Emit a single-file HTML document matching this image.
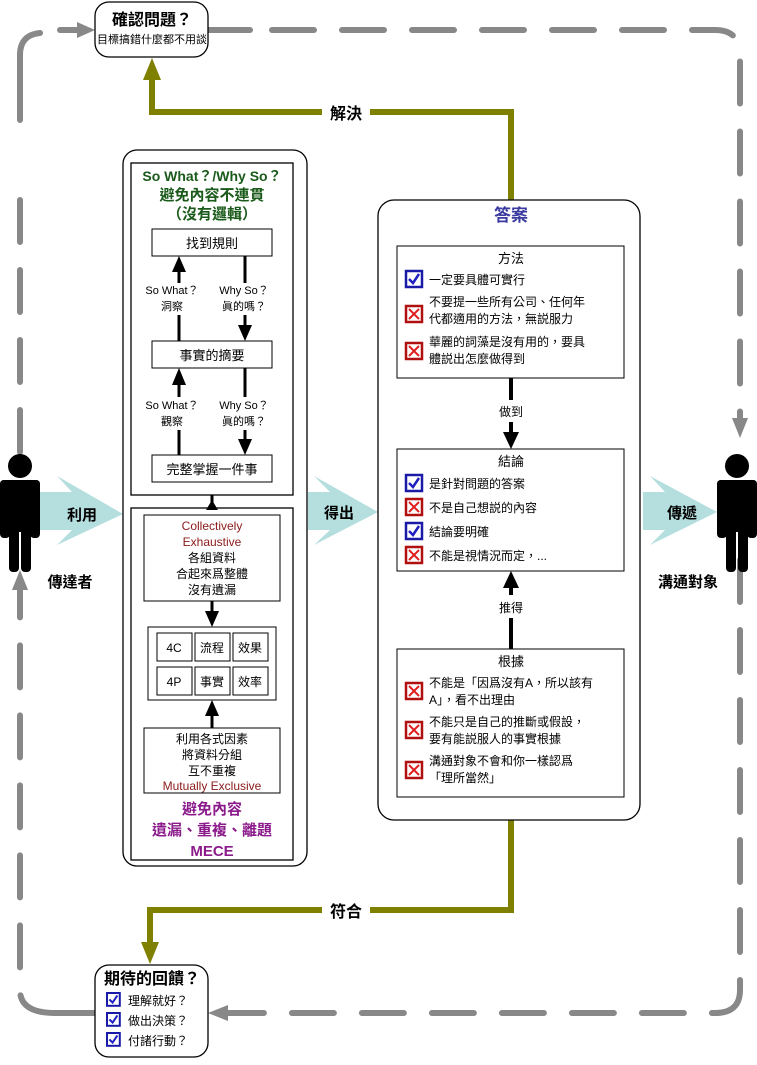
<!DOCTYPE html>
<html><head><meta charset="utf-8"><style>
html,body{margin:0;padding:0;background:#fff;}
svg text{font-family:"Liberation Sans","Noto Sans CJK TC",sans-serif;}
</style></head><body>
<svg width="757" height="1060" viewBox="0 0 757 1060" xmlns="http://www.w3.org/2000/svg">
<defs>
<g id="chk"><rect x="0" y="0" width="16" height="16" fill="#fff" stroke="#1a1aa8" stroke-width="2.5"/><path d="M3,8 L7,12 L13,3" fill="none" stroke="#2020c0" stroke-width="2.5"/></g>
<g id="xx"><rect x="0" y="0" width="16" height="16" fill="#fff" stroke="#b01010" stroke-width="2.5"/><path d="M3,3 L13,13 M13,3 L3,13" stroke="#e02020" stroke-width="2"/></g>
</defs>
<!-- dashed gray loop -->
<g stroke="#888" stroke-width="6" fill="none" stroke-linecap="round">
<path d="M20,120 L20,55 Q20,35 40,33" />
<line x1="60" y1="30" x2="85" y2="30"/>
<line x1="208" y1="30" x2="250" y2="30"/>
<path d="M272,30 L715,30 Q740,30 740,55 L740,418" stroke-dasharray="42,28"/>
<line x1="740" y1="560" x2="740" y2="990" stroke-dasharray="42,28"/>
<path d="M740,990 Q740,1013 715,1013 L215,1013" stroke-dasharray="42,28"/>
<line x1="55" y1="1013" x2="95" y2="1013"/>
<path d="M55,1013 Q20,1013 20,990 L20,585" stroke-dasharray="42,28"/>
<line x1="20" y1="200" x2="20" y2="455" stroke-dasharray="42,28"/>
</g>
<g fill="#888">
<path d="M77,22 L95,30 L77,38 z"/>
<path d="M732,418 L748,418 L740,438 z"/>
<path d="M228,1005 L228,1021 L208,1013 z"/>
<path d="M12,590 L28,590 L20,570 z"/>
</g>
<!-- olive lines -->
<g stroke="#808000" stroke-width="6" fill="none">
<path d="M511,200 L511,112 L152,112 L152,78"/>
<path d="M511,820 L511,910 L150,910 L150,945"/>
</g>
<path d="M143,80 L161,80 L152,58 z" fill="#808000"/>
<path d="M141,942 L159,942 L150,964 z" fill="#808000"/>
<rect x="322" y="100" width="48" height="24" fill="#fff"/>
<text x="346" y="119" font-size="16" text-anchor="middle" font-weight="bold">解決</text>
<rect x="322" y="898" width="48" height="24" fill="#fff"/>
<text x="346" y="917" font-size="16" text-anchor="middle" font-weight="bold">符合</text>
<!-- top box -->
<rect x="95" y="2" width="113" height="55" rx="14" fill="#fff" stroke="#000" stroke-width="1.3"/>
<text x="152" y="25" font-size="16" font-weight="bold" text-anchor="middle">確認問題？</text>
<text x="152" y="43" font-size="11" text-anchor="middle">目標搞錯什麼都不用談</text>
<!-- bottom box -->
<rect x="95" y="965" width="113" height="92" rx="14" fill="#fff" stroke="#000" stroke-width="1.3"/>
<text x="152" y="984" font-size="16" font-weight="bold" text-anchor="middle">期待的回饋？</text>
<use href="#chk" transform="translate(107,993) scale(0.8)"/><text x="128" y="1005" font-size="12">理解就好？</text>
<use href="#chk" transform="translate(107,1013) scale(0.8)"/><text x="128" y="1025" font-size="12">做出決策？</text>
<use href="#chk" transform="translate(107,1033) scale(0.8)"/><text x="128" y="1045" font-size="12">付諸行動？</text>
<!-- teal arrows -->
<g fill="#a8d8d8" opacity="0.85">
<path d="M40,492 L72,492 L57,476 L123,514 L57,545 L72,530 L40,530 z"/>
<path d="M308,492 L330,492 L314,476 L378,512 L314,545 L330,530 L308,530 z"/>
<path d="M643,492 L665,492 L650,476 L717,512 L650,545 L665,530 L643,530 z"/>
</g>
<text x="82" y="520" font-size="15" text-anchor="middle" font-weight="bold">利用</text>
<text x="339" y="518" font-size="15" text-anchor="middle" font-weight="bold">得出</text>
<text x="682" y="518" font-size="15" text-anchor="middle" font-weight="bold">傳遞</text>
<!-- persons -->
<g fill="#000">
<circle cx="20" cy="466" r="12"/>
<rect x="0" y="480" width="40" height="8" rx="4"/>
<rect x="0" y="480" width="10" height="58" rx="4"/><rect x="30" y="480" width="10" height="58" rx="4"/>
<rect x="9" y="482" width="22" height="50"/>
<rect x="9" y="520" width="10" height="52" rx="4"/><rect x="21" y="520" width="10" height="52" rx="4"/>
<circle cx="737" cy="466" r="12"/>
<rect x="717" y="480" width="40" height="8" rx="4"/>
<rect x="717" y="480" width="10" height="58" rx="4"/><rect x="747" y="480" width="10" height="58" rx="4"/>
<rect x="726" y="482" width="22" height="50"/>
<rect x="726" y="520" width="10" height="52" rx="4"/><rect x="738" y="520" width="10" height="52" rx="4"/>
</g>
<text x="70" y="587" font-size="15" text-anchor="middle" font-weight="bold">傳達者</text>
<text x="688" y="587" font-size="15" text-anchor="middle" font-weight="bold">溝通對象</text>
<!-- left container -->
<rect x="123" y="150" width="184" height="716" rx="14" fill="#fff" stroke="#000" stroke-width="1.3"/>
<rect x="131" y="163" width="162" height="332" fill="none" stroke="#000" stroke-width="1.3"/>
<rect x="131" y="508" width="162" height="352" fill="none" stroke="#000" stroke-width="1.3"/>
<text x="212" y="181" font-size="14" fill="#1a5a1a" text-anchor="middle" font-weight="bold">So What？/Why So？</text>
<text x="212" y="200" font-size="15" fill="#1a5a1a" text-anchor="middle" font-weight="bold">避免內容不連貫</text>
<text x="212" y="219" font-size="15" fill="#1a5a1a" text-anchor="middle" font-weight="bold">（沒有邏輯）</text>
<rect x="152" y="229" width="120" height="27" fill="#fff" stroke="#000"/>
<text x="212" y="248" font-size="13" text-anchor="middle">找到規則</text>
<rect x="152" y="341" width="120" height="27" fill="#fff" stroke="#000"/>
<text x="212" y="360" font-size="13" text-anchor="middle">事實的摘要</text>
<rect x="152" y="455" width="120" height="27" fill="#fff" stroke="#000"/>
<text x="212" y="474" font-size="13" text-anchor="middle">完整掌握一件事</text>
<g stroke="#000" stroke-width="3">
<line x1="179" y1="341" x2="179" y2="315"/><line x1="179" y1="283" x2="179" y2="270"/>
<line x1="245" y1="256" x2="245" y2="283"/><line x1="245" y1="315" x2="245" y2="326"/>
<line x1="179" y1="455" x2="179" y2="430"/><line x1="179" y1="397" x2="179" y2="383"/>
<line x1="245" y1="368" x2="245" y2="397"/><line x1="245" y1="430" x2="245" y2="440"/>
<line x1="212" y1="495" x2="212" y2="508"/>
<line x1="212" y1="601" x2="212" y2="612"/>
<line x1="212" y1="728" x2="212" y2="715"/>
</g>
<g fill="#000">
<path d="M172,272 L186,272 L179,256 z"/><path d="M238,325 L252,325 L245,341 z"/>
<path d="M172,385 L186,385 L179,368 z"/><path d="M238,439 L252,439 L245,455 z"/>
<path d="M206,510 L218,510 L212,500 z"/>
<path d="M205,611 L219,611 L212,627 z"/>
<path d="M205,716 L219,716 L212,700 z"/>
</g>
<g font-size="11" text-anchor="middle">
<text x="172" y="294">So What？</text><text x="172" y="310">洞察</text>
<text x="244" y="294">Why So？</text><text x="244" y="310">眞的嗎？</text>
<text x="172" y="409">So What？</text><text x="172" y="425">觀察</text>
<text x="244" y="409">Why So？</text><text x="244" y="425">眞的嗎？</text>
</g>
<rect x="144" y="515" width="136" height="86" fill="#fff" stroke="#000"/>
<g font-size="12" text-anchor="middle">
<text x="212" y="530" fill="#8b1a1a">Collectively</text>
<text x="212" y="546" fill="#8b1a1a">Exhaustive</text>
<text x="212" y="562">各組資料</text>
<text x="212" y="578">合起來爲整體</text>
<text x="212" y="594">沒有遺漏</text>
</g>
<rect x="148" y="627" width="128" height="73" fill="#fff" stroke="#000"/>
<g fill="#fff" stroke="#000">
<rect x="157" y="633" width="35" height="28"/><rect x="195" y="633" width="35" height="28"/><rect x="233" y="633" width="35" height="28"/>
<rect x="157" y="667" width="35" height="28"/><rect x="195" y="667" width="35" height="28"/><rect x="233" y="667" width="35" height="28"/>
</g>
<g font-size="12" text-anchor="middle">
<text x="174" y="652">4C</text><text x="212" y="652">流程</text><text x="250" y="652">效果</text>
<text x="174" y="686">4P</text><text x="212" y="686">事實</text><text x="250" y="686">效率</text>
</g>
<rect x="144" y="728" width="136" height="65" fill="#fff" stroke="#000"/>
<g font-size="12" text-anchor="middle">
<text x="212" y="743">利用各式因素</text>
<text x="212" y="759">將資料分組</text>
<text x="212" y="775">互不重複</text>
<text x="212" y="790" fill="#8b1a1a">Mutually Exclusive</text>
</g>
<g font-size="15" text-anchor="middle" fill="#8b1a8b" font-weight="bold">
<text x="212" y="814">避免內容</text>
<text x="212" y="835">遺漏、重複、離題</text>
<text x="212" y="856">MECE</text>
</g>
<!-- answer container -->
<rect x="378" y="200" width="262" height="620" rx="16" fill="#fff" stroke="#000" stroke-width="1.3"/>
<text x="511" y="221" font-size="17" fill="#3a3aa0" text-anchor="middle" font-weight="bold">答案</text>
<rect x="397" y="246" width="227" height="132" fill="#fff" stroke="#000"/>
<text x="511" y="263" font-size="13" text-anchor="middle">方法</text>
<use href="#chk" transform="translate(406,271)"/><text x="429" y="284" font-size="12">一定要具體可實行</text>
<use href="#xx" transform="translate(406,306)"/><text x="429" y="306" font-size="12">不要提一些所有公司、任何年</text><text x="429" y="323" font-size="12">代都適用的方法，無説服力</text>
<use href="#xx" transform="translate(406,343)"/><text x="429" y="346" font-size="12">華麗的詞藻是沒有用的，要具</text><text x="429" y="363" font-size="12">體説出怎麼做得到</text>
<rect x="397" y="449" width="227" height="122" fill="#fff" stroke="#000"/>
<text x="511" y="466" font-size="13" text-anchor="middle">結論</text>
<use href="#chk" transform="translate(406,475)"/><text x="429" y="488" font-size="12">是針對問題的答案</text>
<use href="#xx" transform="translate(406,499)"/><text x="429" y="512" font-size="12">不是自己想説的內容</text>
<use href="#chk" transform="translate(406,523)"/><text x="429" y="536" font-size="12">結論要明確</text>
<use href="#xx" transform="translate(406,547)"/><text x="429" y="560" font-size="12">不能是視情況而定，...</text>
<rect x="397" y="649" width="227" height="148" fill="#fff" stroke="#000"/>
<text x="511" y="666" font-size="13" text-anchor="middle">根據</text>
<use href="#xx" transform="translate(406,683)"/><text x="429" y="687" font-size="12">不能是「因爲沒有A，所以該有</text><text x="429" y="704" font-size="12">A」，看不出理由</text>
<use href="#xx" transform="translate(406,722)"/><text x="429" y="726" font-size="12">不能只是自己的推斷或假設，</text><text x="429" y="743" font-size="12">要有能説服人的事實根據</text>
<use href="#xx" transform="translate(406,762)"/><text x="429" y="765" font-size="12">溝通對象不會和你一樣認爲</text><text x="429" y="782" font-size="12">「理所當然」</text>
<g stroke="#000" stroke-width="4">
<line x1="511" y1="378" x2="511" y2="400"/><line x1="511" y1="422" x2="511" y2="435"/>
<line x1="511" y1="649" x2="511" y2="618"/><line x1="511" y1="595" x2="511" y2="585"/>
</g>
<path d="M503,432 L519,432 L511,449 z" fill="#000"/>
<path d="M503,588 L519,588 L511,571 z" fill="#000"/>
<text x="511" y="416" font-size="12" text-anchor="middle">做到</text>
<text x="511" y="612" font-size="12" text-anchor="middle">推得</text>
</svg>
</body></html>
